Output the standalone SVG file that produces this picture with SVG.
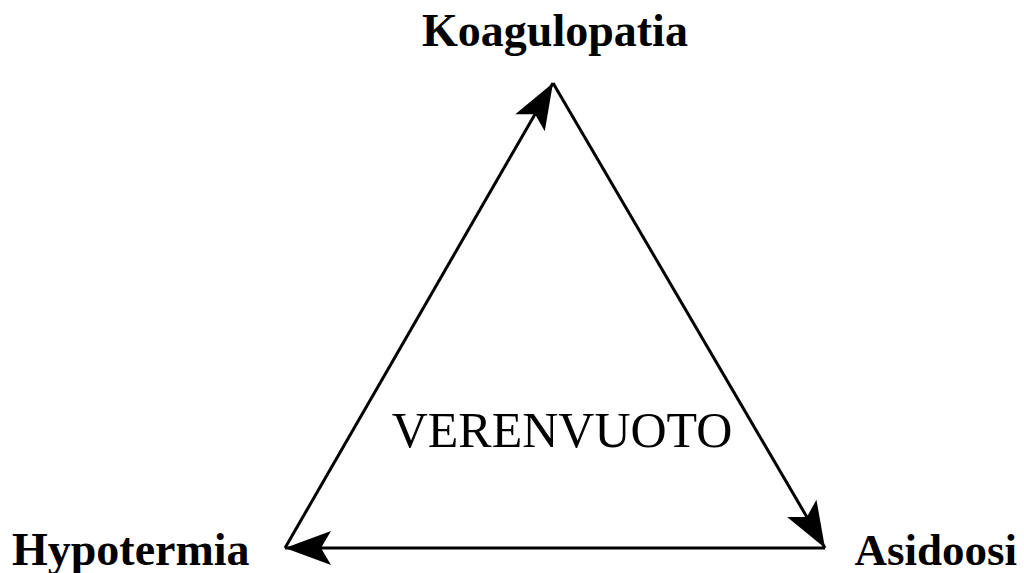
<svg xmlns="http://www.w3.org/2000/svg" width="1024" height="573" viewBox="0 0 1024 573">
<style>
.lbl{font-family:"Liberation Serif","Times New Roman",serif;font-weight:bold;font-size:46px;fill:#000}
.ctr{font-family:"Liberation Serif","Times New Roman",serif;font-size:50px;fill:#000}
.edge{stroke:#000;stroke-width:3;fill:none}
</style>
<defs>
<marker id="arr" markerUnits="userSpaceOnUse" viewBox="-48 -19 50 38" refX="0" refY="0" markerWidth="50" markerHeight="38" orient="auto">
<path d="M0,0 L-46,-17 L-36,0 L-46,17 Z" fill="#000"/>
</marker>
</defs>
<rect width="1024" height="573" fill="#fff"/>
<g id="connectors">
<line class="edge" x1="285" y1="548" x2="553" y2="83" marker-end="url(#arr)"/>
<line class="edge" x1="553" y1="83" x2="825" y2="548" marker-end="url(#arr)"/>
<line class="edge" x1="825" y1="548" x2="285" y2="548" marker-end="url(#arr)"/>
</g>
<g id="koagulopatia"><text class="lbl" x="555" y="46" text-anchor="middle">Koagulopatia</text></g>
<g id="hypotermia"><text class="lbl" x="12" y="565">Hypotermia</text></g>
<g id="asidoosi"><text class="lbl" x="1017" y="565" text-anchor="end" style="font-size:45px">Asidoosi</text></g>
<g id="verenvuoto"><text class="ctr" x="562" y="447" text-anchor="middle">VERENVUOTO</text></g>
</svg>
